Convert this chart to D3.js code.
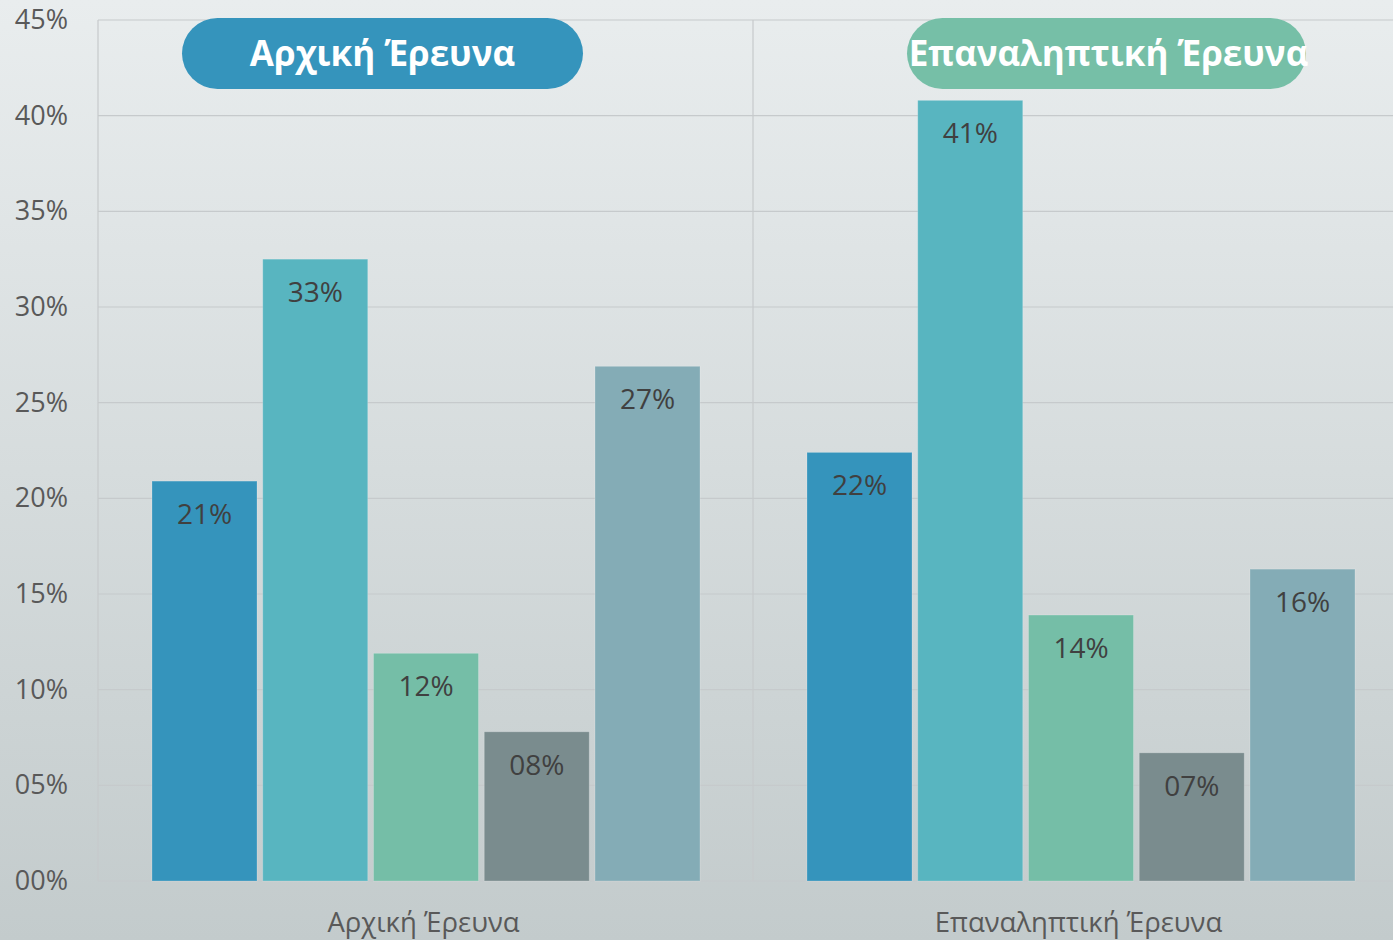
<!DOCTYPE html>
<html>
<head>
<meta charset="utf-8">
<script src="https://cdn.jsdelivr.net/npm/d3@7"></script>
<style>
  html, body { margin: 0; padding: 0; background: #dfe4e5; }
  svg { display: block; font-family: "Open Sans", "Noto Sans", sans-serif; }
</style>
</head>
<body>
<div id="chart"></div>
<script>
const width = 1393
const height = 940
const margin = { top: 20, right: -15, bottom: 59, left: 98 }

// data
const categories = ["Αρχική Έρευνα", "Επαναληπτική Έρευνα"]
const series = ["A", "B", "C", "D", "E"]
const initialValues = [20.9, 32.5, 11.9, 7.8, 26.9]
const repeatValues = [22.4, 40.8, 13.9, 6.7, 16.3]
const yTicks = [0, 5, 10, 15, 20, 25, 30, 35, 40, 45]
const barColors = ["#3594bc", "#58b5c0", "#75bea7", "#7a8c8e", "#84acb6"]
const pillColors = ["#3594bc", "#76bfa7"]

const table = categories.map((c, i) => ({
    category: c,
    values: (i === 0 ? initialValues : repeatValues).map((v, j) => ({ key: series[j], value: v }))
}))

const svg = d3.select("#chart").append("svg").attr("width", width).attr("height", height)

const grad = svg.append("defs").append("linearGradient")
    .attr("id", "bg").attr("x1", 0).attr("y1", 0).attr("x2", 0).attr("y2", 1)
grad.append("stop").attr("offset", "0%").attr("stop-color", "#e9edee")
grad.append("stop").attr("offset", "100%").attr("stop-color", "#c3cbcc")
svg.append("rect").attr("width", width).attr("height", height).attr("fill", "url(#bg)")

const x0 = d3.scaleBand().domain(categories).range([margin.left, width - margin.right]).padding(0)
const x1 = d3.scaleBand().domain(series).range([54, 602]).paddingInner(0.052).paddingOuter(0)
const y = d3.scaleLinear().domain([0, 45]).range([height - margin.bottom, margin.top])
const fmt = v => d3.format("02d")(Math.round(v)) + "%"

// gridlines
svg.append("g").selectAll("line").data(yTicks).join("line")
    .attr("x1", margin.left).attr("x2", width)
    .attr("y1", d => y(d)).attr("y2", d => y(d))
    .attr("stroke", "#c6cacc").attr("stroke-width", 1.2)

// vertical separators
svg.append("g").selectAll("line").data(categories).join("line")
    .attr("x1", d => x0(d)).attr("x2", d => x0(d))
    .attr("y1", y(45)).attr("y2", y(0))
    .attr("stroke", "#c6cacc").attr("stroke-width", 1.2)

// y axis labels
const yAxis = d3.axisLeft(y).tickValues(yTicks).tickFormat(fmt).tickSize(0).tickPadding(0)
svg.append("g").attr("transform", "translate(68,0)").call(yAxis)
    .call(g => g.select(".domain").remove())
    .selectAll("text")
    .attr("font-family", "Open Sans, sans-serif")
    .attr("font-size", 27).attr("fill", "#595959")

// x axis labels
const xAxis = d3.axisBottom(x0).tickSize(0).tickPadding(0)
svg.append("g").attr("transform", `translate(-2,${y(0) + 31})`).call(xAxis)
    .call(g => g.select(".domain").remove())
    .selectAll("text")
    .attr("font-family", "Open Sans, sans-serif")
    .attr("font-size", 27.5).attr("fill", "#595959")

// bars
const groups = svg.append("g").selectAll("g").data(table).join("g")
    .attr("transform", d => `translate(${x0(d.category)},0)`)

groups.selectAll("rect").data(d => d.values).join("rect")
    .attr("x", d => x1(d.key))
    .attr("y", d => y(d.value))
    .attr("width", x1.bandwidth())
    .attr("height", d => y(0) - y(d.value))
    .attr("fill", (d, i) => barColors[i])
    .attr("stroke", "rgba(255,255,255,0.2)")
    .attr("stroke-width", 1)

groups.selectAll("text").data(d => d.values).join("text")
    .attr("x", d => x1(d.key) + x1.bandwidth() / 2)
    .attr("y", d => y(d.value) + 43)
    .attr("text-anchor", "middle")
    .attr("font-size", 28)
    .attr("fill", "#404040")
    .text(d => fmt(d.value))

// title pills
const pillOffsets = [84, 154]
const pillWidths = [401, 399]
const pills = svg.append("g").selectAll("g").data(categories).join("g")
    .attr("transform", (d, i) => `translate(${x0(d) + pillOffsets[i]},18)`)
pills.append("rect")
    .attr("width", (d, i) => pillWidths[i]).attr("height", 71)
    .attr("rx", 35.5)
    .attr("fill", (d, i) => pillColors[i])
pills.append("text")
    .attr("x", (d, i) => pillWidths[i] / 2 + (i ? 2 : 0))
    .attr("y", 48)
    .attr("text-anchor", "middle")
    .attr("font-weight", "bold")
    .attr("font-size", (d, i) => i ? 35 : 35)
    .attr("fill", "#ffffff")
    .text(d => d)
</script>
</body>
</html>
